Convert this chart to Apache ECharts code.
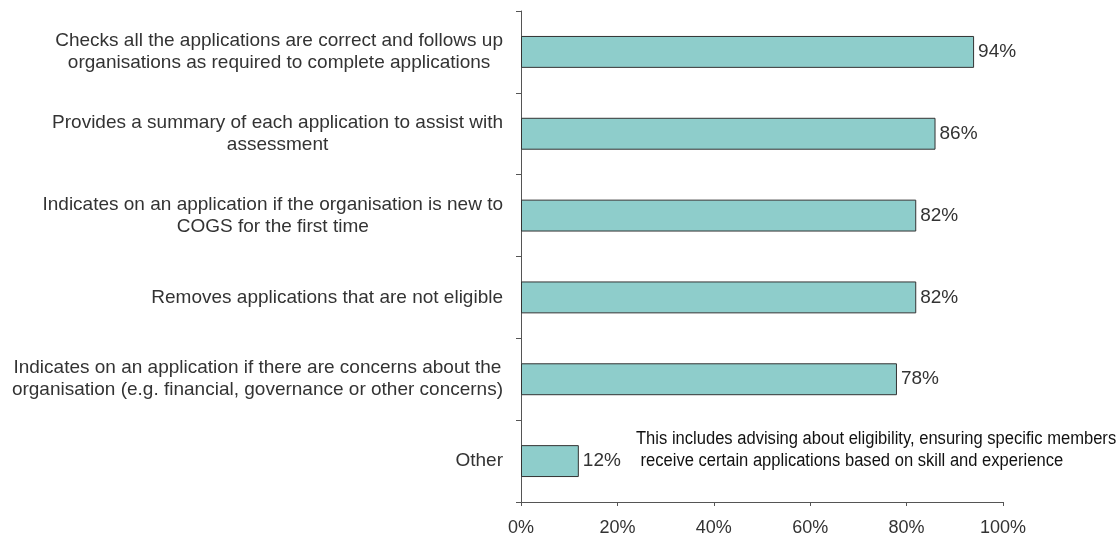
<!DOCTYPE html>
<html>
<head>
<meta charset="utf-8">
<script src="https://cdn.jsdelivr.net/npm/echarts@6/dist/echarts.min.js"></script>
<style>
html, body { margin: 0; padding: 0; background: #fff; }
#chart { width: 1119px; height: 537px; }
</style>
</head>
<body>
<div id="chart"></div>
<script>
const categories = [
    'Checks all the applications are correct and follows up\norganisations as required to complete applications',
    'Provides a summary of each application to assist with\nassessment',
    'Indicates on an application if the organisation is new to\nCOGS for the first time',
    'Removes applications that are not eligible',
    'Indicates on an application if there are concerns about the\norganisation (e.g. financial, governance or other concerns)',
    'Other'
];
const percentages = [94, 86, 82, 82, 78, 12];
const xTicks = [0, 20, 40, 60, 80, 100];
const noteLines = [
    'This includes advising about eligibility, ensuring specific members',
    ' receive certain applications based on skill and experience'
];

var myChart = echarts.init(document.getElementById('chart'));
var option = {
    animation: false,
    textStyle: { fontFamily: 'Liberation Sans, Arial, sans-serif' },
    grid: { left: 521, right: 116, top: 11, bottom: 33 },
    xAxis: {
        type: 'value',
        min: xTicks[0],
        max: xTicks[xTicks.length - 1],
        interval: 20,
        splitLine: { show: false },
        axisLine: { show: true, lineStyle: { color: '#555', width: 1 } },
        axisTick: { show: true, length: 4, lineStyle: { color: '#555' } },
        axisLabel: { color: '#333', fontSize: 18, margin: 17, formatter: '{value}%' }
    },
    yAxis: {
        type: 'category',
        inverse: true,
        data: categories,
        axisLine: { show: true, lineStyle: { color: '#555', width: 1 } },
        axisTick: { show: true, length: 5, lineStyle: { color: '#555' } },
        axisLabel: {
            color: '#333',
            fontSize: 19,
            lineHeight: 22,
            align: 'right',
            margin: 18,
            // center each line inside the right-aligned block
            formatter: function (v) {
                return v.split('\n').map(function (s) { return '{c|' + s + '}'; }).join('\n');
            },
            rich: { c: { align: 'center', fontSize: 19, lineHeight: 22, color: '#333' } }
        }
    },
    series: [{
        type: 'bar',
        data: percentages,
        barWidth: '39%',
        itemStyle: { color: '#8ecdcb', borderColor: '#333', borderWidth: 1 },
        label: {
            show: true,
            position: 'right',
            distance: 4,
            color: '#333',
            fontSize: 19,
            formatter: '{c}%'
        }
    }],
    graphic: [{
        type: 'text',
        x: 636,
        y: 428,
        scaleX: 0.92,
        style: {
            text: noteLines.join('\n'),
            fill: '#111',
            font: '18px "Liberation Sans", Arial, sans-serif',
            lineHeight: 22
        }
    }]
};
myChart.setOption(option);
</script>
</body>
</html>
